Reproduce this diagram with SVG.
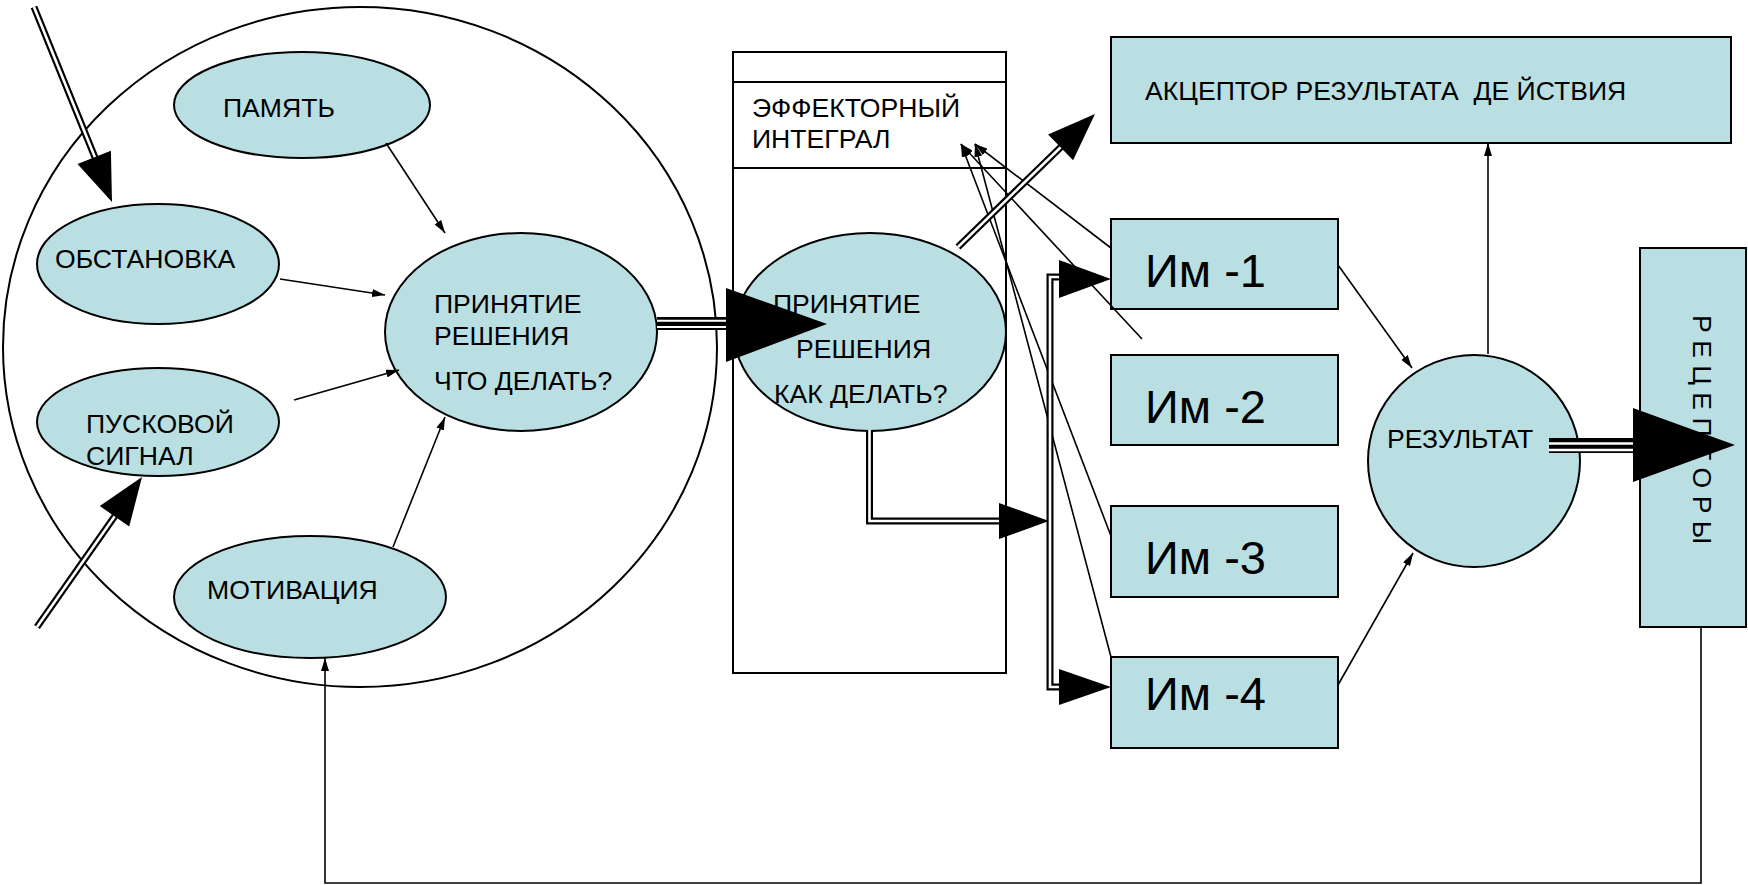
<svg xmlns="http://www.w3.org/2000/svg" width="1748" height="885" viewBox="0 0 1748 885">
<style>
.n{fill:#B9DFE3;stroke:#000;stroke-width:2}
.o{fill:none;stroke:#000;stroke-width:2}
.t{font-family:"Liberation Sans",Arial,sans-serif;font-size:26.6px;fill:#000}
.b{font-family:"Liberation Sans",Arial,sans-serif;font-size:47px;fill:#000}
.l{fill:none;stroke:#000;stroke-width:1.6}
.d1{fill:none;stroke:#000;stroke-width:7}
.d2{fill:none;stroke:#fff;stroke-width:2.6}
.h{fill:#000;stroke:none}
</style>
<defs>
<marker id="a" markerWidth="13" markerHeight="8" refX="13" refY="4" orient="auto" markerUnits="userSpaceOnUse"><path d="M0,0 L13,4 L0,8 z" fill="#000"/></marker>
</defs>
<rect width="1748" height="885" fill="#fff"/>
<g id="outer"><ellipse cx="360" cy="347" rx="357" ry="340" class="o"/></g>
<g id="pamyat"><ellipse cx="302" cy="105" rx="128" ry="53" class="n"/><text x="223" y="117" class="t">ПАМЯТЬ</text></g>
<g id="obstanovka"><ellipse cx="158" cy="264" rx="121" ry="60" class="n"/><text x="55" y="268" class="t">ОБСТАНОВКА</text></g>
<g id="puskovoy"><ellipse cx="158" cy="422" rx="121" ry="54" class="n"/><text x="86" y="433" class="t">ПУСКОВОЙ</text><text x="86" y="465" class="t">СИГНАЛ</text></g>
<g id="motivatsiya"><ellipse cx="310" cy="597" rx="136" ry="61" class="n"/><text x="207" y="599" class="t">МОТИВАЦИЯ</text></g>
<g id="prinyatie1"><ellipse cx="521" cy="332" rx="136" ry="99" class="n"/><text x="434" y="313" class="t">ПРИНЯТИЕ</text><text x="434" y="345" class="t">РЕШЕНИЯ</text><text x="434" y="390" class="t">ЧТО ДЕЛАТЬ?</text></g>
<g id="effektor"><rect x="733" y="52" width="273" height="621" class="o"/><line x1="733" y1="82" x2="1006" y2="82" class="o"/><line x1="733" y1="168" x2="1006" y2="168" class="o"/><text x="752" y="117" class="t">ЭФФЕКТОРНЫЙ</text><text x="752" y="148" class="t">ИНТЕГРАЛ</text></g>
<g id="prinyatie2"><ellipse cx="870" cy="332" rx="136" ry="99" class="n"/><text x="773" y="313" class="t">ПРИНЯТИЕ</text><text x="796" y="358" class="t">РЕШЕНИЯ</text><text x="774" y="403" class="t">КАК ДЕЛАТЬ?</text></g>
<g id="akceptor"><rect x="1111" y="37" width="620" height="106" class="n"/><text x="1145" y="100" class="t" style="white-space:pre">АКЦЕПТОР РЕЗУЛЬТАТА  ДЕ ЙСТВИЯ</text></g>
<g id="im1"><rect x="1111" y="219" width="227" height="90" class="n"/><text x="1145" y="287" class="b">Им -1</text></g>
<g id="im2"><rect x="1111" y="355" width="227" height="90" class="n"/><text x="1145" y="423" class="b">Им -2</text></g>
<g id="im3"><rect x="1111" y="506" width="227" height="91" class="n"/><text x="1145" y="574" class="b">Им -3</text></g>
<g id="im4"><rect x="1111" y="657" width="227" height="91" class="n"/><text x="1145" y="710" class="b">Им -4</text></g>
<g id="rezultat"><circle cx="1474" cy="461" r="106" class="n"/><text x="1387" y="448" class="t">РЕЗУЛЬТАТ</text></g>
<g id="receptory"><rect x="1640" y="248" width="106" height="379" class="n"/><text x="0" y="0" class="t" transform="translate(1693,315) rotate(90)">Р Е Ц Е П Т О Р Ы</text></g>
<g id="connectors">
<line x1="386" y1="143" x2="445" y2="233" class="l" marker-end="url(#a)"/>
<line x1="280" y1="279" x2="385" y2="295" class="l" marker-end="url(#a)"/>
<line x1="294" y1="400" x2="399" y2="370" class="l" marker-end="url(#a)"/>
<line x1="393" y1="547" x2="445" y2="417" class="l" marker-end="url(#a)"/>
<line x1="1111" y1="248" x2="975" y2="144" class="l" marker-end="url(#a)"/>
<line x1="1142" y1="339" x2="961" y2="144" class="l" marker-end="url(#a)"/>
<line x1="1111" y1="536" x2="961" y2="144" class="l" marker-end="url(#a)"/>
<line x1="1111" y1="657" x2="975" y2="144" class="l" marker-end="url(#a)"/>
<line x1="1338" y1="265" x2="1412" y2="368" class="l" marker-end="url(#a)"/>
<line x1="1338" y1="685" x2="1413" y2="553" class="l" marker-end="url(#a)"/>
<line x1="1488" y1="354" x2="1488" y2="143" class="l" marker-end="url(#a)"/>
<path d="M1701,627 V883 H325 V658" class="l" marker-end="url(#a)"/>
<path d="M34,7 L96,160" class="d1"/><path d="M34,7 L96,160" class="d2"/>
<polygon points="112,202 77.5,164.1 110.9,150.7" class="h"/>
<path d="M37,627 L117,513" class="d1"/><path d="M37,627 L117,513" class="d2"/>
<polygon points="142,477 129.2,526.6 99.8,506" class="h"/>
<path d="M958,247 L1063,145" class="d1"/><path d="M958,247 L1063,145" class="d2"/>
<polygon points="1095,114 1073.1,160.3 1048.1,134.5" class="h"/>
<path d="M657,323.5 H730" stroke="#000" stroke-width="13" fill="none"/>
<path d="M657,320.7 H730 M657,327 H730" stroke="#fff" stroke-width="2" fill="none"/>
<polygon points="726,288 827,324 726,362" class="h"/>
<path d="M1549,445.5 H1637" stroke="#000" stroke-width="15" fill="none"/>
<path d="M1549,443.5 H1637 M1549,450 H1637" stroke="#fff" stroke-width="2.6" fill="none"/>
<polygon points="1633,408 1735,445 1633,482" class="h"/>
<path d="M869.5,430 V521 H1002" class="d1"/><path d="M869.5,430 V521 H1002" class="d2"/>
<polygon points="999,503 1049,521 999,539" class="h"/>
<path d="M1062,277 H1050 V687 H1062" class="d1"/><path d="M1062,277 H1050 V687 H1062" class="d2"/>
<polygon points="1059,260 1111,279 1059,298" class="h"/>
<polygon points="1059,669 1111,687 1059,705" class="h"/>
</g>
</svg>
